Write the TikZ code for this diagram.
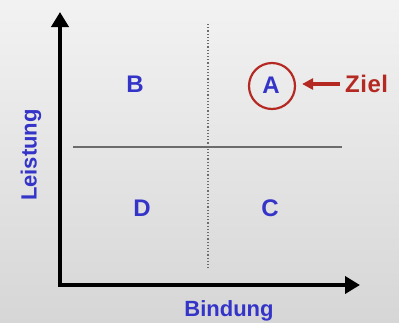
\documentclass[tikz,border=0pt]{standalone}
\usepackage{fontspec}
\setmainfont{Liberation Sans}
\usetikzlibrary{arrows.meta}
\definecolor{lblue}{HTML}{3434C8}
\definecolor{lred}{HTML}{B42A22}
\begin{document}
\begin{tikzpicture}[x=1pt,y=-1pt,
  quad/.style={text=lblue,font=\fontsize{24}{24}\selectfont\bfseries,inner sep=0pt},
  axlabel/.style={text=lblue,font=\fontsize{22}{22}\selectfont\bfseries,inner sep=0pt},
  axis/.style={line width=4.5pt,-{Triangle[length=15pt,width=17pt]}},
  grid/.style={draw=gray!85!black,line width=1.2pt}]
\shade[top color=black!5,bottom color=black!16] (0,0) rectangle (399,322);
\useasboundingbox (0,0) rectangle (399,322);
\coordinate (o) at (60,285);
\coordinate (ytop) at (60,12);
\coordinate (xend) at (360,285);
\coordinate (vt) at (208,24);
\coordinate (vb) at (208,268);
\coordinate (hl) at (73,147);
\coordinate (hr) at (342,147);
\draw[grid,dotted,line width=1.2pt] (vt) -- (vb);
\draw[grid] (hl) -- (hr);
\draw[axis] (o) -- (ytop);
\draw[axis] ([xshift=-2.25pt]o) -- (xend);
\node[quad] (B) at (135,84) {B};
\node[quad] (A) at (271,85) {A};
\node[quad] (D) at (142,208) {D};
\node[quad] (C) at (270,208) {C};
\node[draw=lred,line width=2.2pt,circle,minimum size=46pt] (Ac) at (272,86) {};
\node[text=lred,font=\fontsize{24}{24}\selectfont\bfseries,inner sep=0pt,anchor=west] (Z) at (345,84) {Z\kern0.5pt i\kern0.5pt e\kern0.5pt l};
\draw[lred,line width=3.5pt,shorten <=5pt,shorten >=6pt,-{Triangle[length=11pt,width=11pt]}] (Z.west) -- (Ac.east |- Z.west);
\node[axlabel] (X) at (229,311) {Bindung};
\node[axlabel,rotate=90] (Y) at (31,155) {Leistung};
\end{tikzpicture}
\end{document}
